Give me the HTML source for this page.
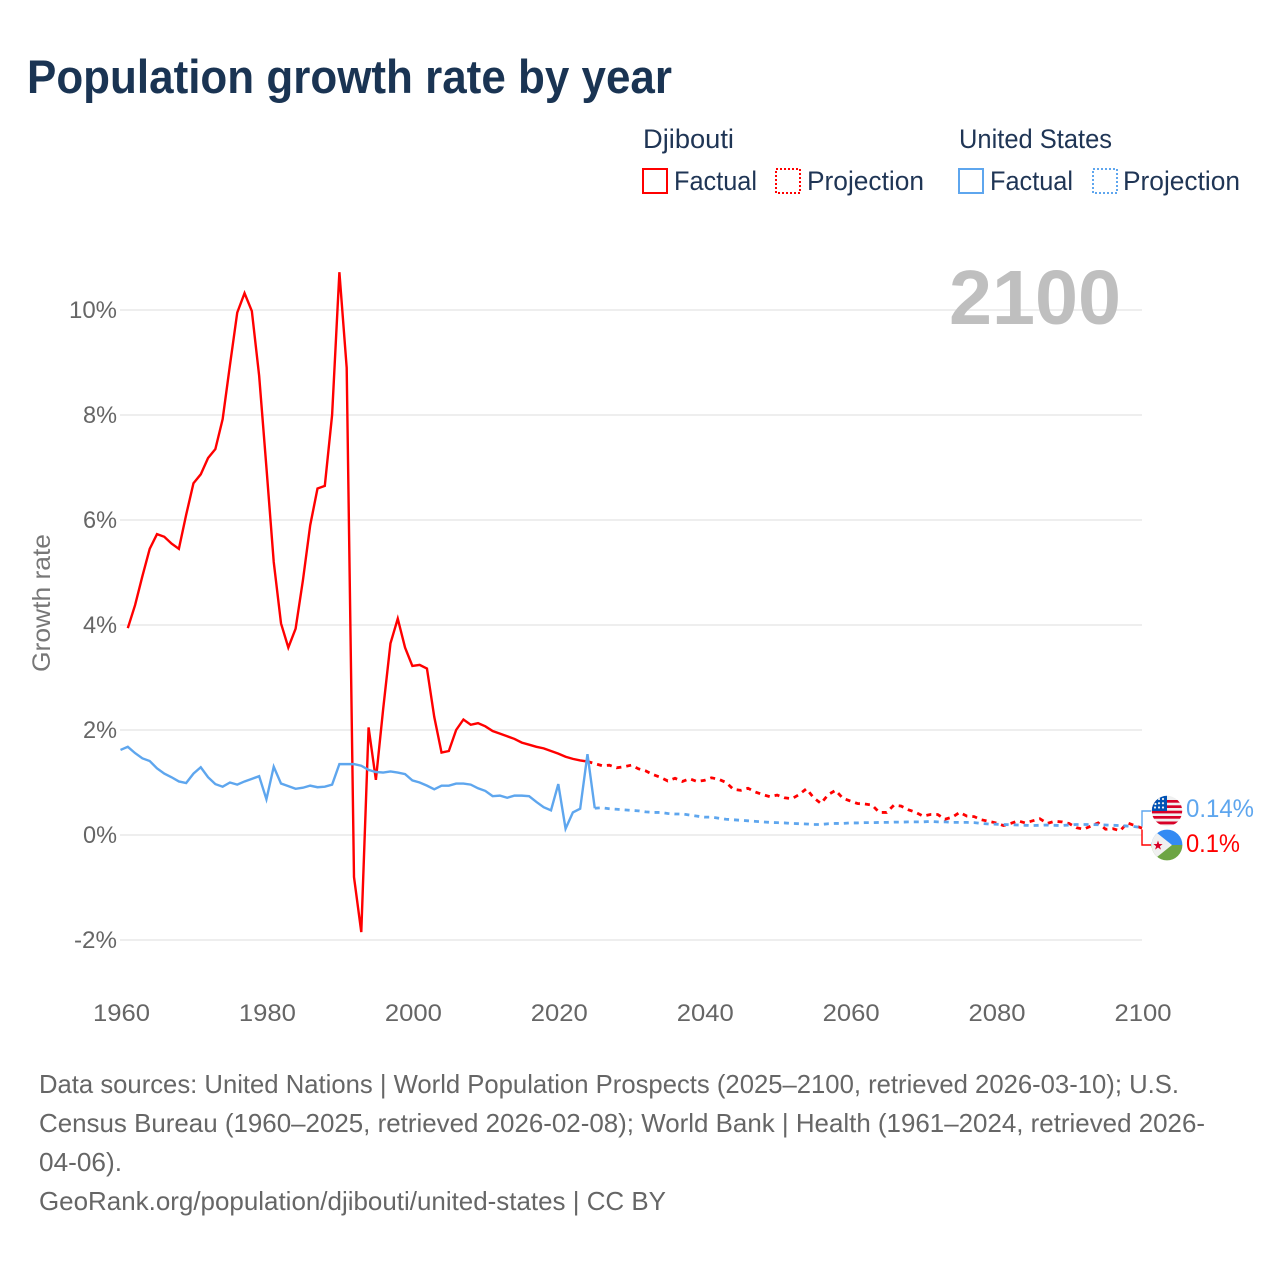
<!DOCTYPE html>
<html lang="en">
<head>
<meta charset="utf-8">
<title>Population growth rate by year</title>
<style>
html,body{margin:0;padding:0;background:#fff;width:1280px;height:1280px;overflow:hidden}
svg{display:block}
text{font-family:"Liberation Sans",sans-serif}
</style>
</head>
<body>
<svg id="chart" xmlns="http://www.w3.org/2000/svg" width="1280" height="1280" viewBox="0 0 1280 1280">
  <defs>
    <clipPath id="clip-us"><circle cx="1167" cy="811" r="15.2"/></clipPath>
    <clipPath id="clip-dj"><circle cx="1167" cy="845" r="15.4"/></clipPath>
  </defs>
  <rect x="0" y="0" width="1280" height="1280" fill="#fff"/>

  <text x="27" y="93" font-size="47" font-weight="700" fill="#1a3453" textLength="645" lengthAdjust="spacingAndGlyphs">Population growth rate by year</text>

  <g font-size="27" fill="#1f3555">
    <text x="643" y="148" textLength="91" lengthAdjust="spacingAndGlyphs">Djibouti</text>
    <rect x="643" y="169" width="24" height="24" fill="none" stroke="#ff0000" stroke-width="2"/>
    <text x="674" y="190" textLength="83" lengthAdjust="spacingAndGlyphs">Factual</text>
    <rect x="776" y="169" width="24" height="24" fill="none" stroke="#ff0000" stroke-width="2" stroke-dasharray="2 2"/>
    <text x="807" y="190" textLength="117" lengthAdjust="spacingAndGlyphs">Projection</text>
    <text x="959" y="148" textLength="153" lengthAdjust="spacingAndGlyphs">United States</text>
    <rect x="959" y="169" width="24" height="24" fill="none" stroke="#5ea6ee" stroke-width="2"/>
    <text x="990" y="190" textLength="83" lengthAdjust="spacingAndGlyphs">Factual</text>
    <rect x="1093" y="169" width="24" height="24" fill="none" stroke="#5ea6ee" stroke-width="2" stroke-dasharray="2 2"/>
    <text x="1123" y="190" textLength="117" lengthAdjust="spacingAndGlyphs">Projection</text>
  </g>

  <g id="grid"></g>
  <g id="y-ticks"></g>
  <g id="x-ticks"></g>

  <text transform="translate(50,603) rotate(-90)" text-anchor="middle" font-size="25" fill="#777" textLength="138" lengthAdjust="spacingAndGlyphs">Growth rate</text>

  <text x="949" y="324" font-size="77" font-weight="700" fill="#bfbfbf" textLength="172" lengthAdjust="spacingAndGlyphs">2100</text>

  <g id="series"></g>

  <path d="M1142 826.5 V811 H1151" fill="none" stroke="#5ea6ee" stroke-width="1.4"/>
  <path d="M1142 829.5 V845 H1151" fill="none" stroke="#ff0000" stroke-width="1.4"/>

  <g clip-path="url(#clip-us)">
    <rect x="1151" y="795" width="32" height="32" fill="#f0f0f0"/>
    <rect x="1151" y="800" width="32" height="2.7" fill="#d80027"/>
    <rect x="1151" y="805.3" width="32" height="2.7" fill="#d80027"/>
    <rect x="1151" y="810.7" width="32" height="2.7" fill="#d80027"/>
    <rect x="1151" y="816" width="32" height="2.7" fill="#d80027"/>
    <rect x="1151" y="821.5" width="32" height="2.9" fill="#d80027"/>
    <rect x="1151" y="795" width="16" height="16" fill="#0052b4"/>
    <g fill="#f0f0f0">
      <circle cx="1163" cy="799" r="1.1"/><circle cx="1159" cy="799" r="1.1"/>
      <circle cx="1163" cy="803.2" r="1.1"/><circle cx="1159" cy="803.2" r="1.1"/><circle cx="1155.5" cy="804" r="1.1"/>
      <circle cx="1163" cy="807.5" r="1.1"/><circle cx="1159" cy="807.5" r="1.1"/><circle cx="1155" cy="807.5" r="1.1"/>
    </g>
  </g>
  <g clip-path="url(#clip-dj)">
    <rect x="1151" y="829" width="33" height="16" fill="#338af3"/>
    <rect x="1151" y="845" width="33" height="16" fill="#6da544"/>
    <path d="M1152 829 L1172 845 L1152 861 Z" fill="#f0f0f0"/>
    <path d="M1158 840.5 L1159.2 844 L1162.6 844 L1159.9 846.2 L1160.9 849.6 L1158 847.5 L1155.1 849.6 L1156.1 846.2 L1153.4 844 L1156.8 844 Z" fill="#d80027"/>
  </g>

  <text x="1186" y="817" font-size="25" fill="#5ea6ee" textLength="68" lengthAdjust="spacingAndGlyphs">0.14%</text>
  <text x="1186" y="852" font-size="25" fill="#ff0000" textLength="54" lengthAdjust="spacingAndGlyphs">0.1%</text>

  <g font-size="26" fill="#666">
    <text x="39" y="1093" textLength="1140" lengthAdjust="spacingAndGlyphs">Data sources: United Nations | World Population Prospects (2025–2100, retrieved 2026-03-10); U.S.</text>
    <text x="39" y="1132" textLength="1166" lengthAdjust="spacingAndGlyphs">Census Bureau (1960–2025, retrieved 2026-02-08); World Bank | Health (1961–2024, retrieved 2026-</text>
    <text x="39" y="1171" textLength="83" lengthAdjust="spacingAndGlyphs">04-06).</text>
    <text x="39" y="1210" textLength="627" lengthAdjust="spacingAndGlyphs">GeoRank.org/population/djibouti/united-states | CC BY</text>
  </g>
</svg>

<script>
var xTickYears = [1960, 1980, 2000, 2020, 2040, 2060, 2080, 2100];
var yTickValues = [-2, 0, 2, 4, 6, 8, 10];
var yTickLabels = ["-2%", "0%", "2%", "4%", "6%", "8%", "10%"];

var djiboutiFactualStart = 1961;
var djiboutiFactual = [3.94,4.38,4.93,5.45,5.73,5.68,5.55,5.45,6.1,6.7,6.87,7.18,7.35,7.92,8.95,9.95,10.32,9.98,8.75,7.0,5.2,4.03,3.57,3.93,4.85,5.9,6.6,6.65,8.0,10.72,8.9,-0.8,-1.85,2.05,1.05,2.4,3.65,4.12,3.57,3.22,3.24,3.17,2.25,1.57,1.6,2.0,2.2,2.1,2.13,2.07,1.98,1.93,1.88,1.83,1.76,1.72,1.68,1.65,1.6,1.55,1.49,1.45,1.42,1.4];

var djiboutiProjectionStart = 2024;
var djiboutiProjection = [1.4,1.36,1.32,1.33,1.28,1.3,1.33,1.26,1.22,1.15,1.1,1.03,1.08,1.02,1.07,1.02,1.04,1.09,1.06,1.0,0.87,0.85,0.89,0.82,0.77,0.73,0.76,0.71,0.69,0.77,0.88,0.71,0.6,0.77,0.85,0.7,0.65,0.6,0.59,0.57,0.43,0.43,0.57,0.55,0.48,0.43,0.36,0.39,0.39,0.3,0.34,0.43,0.36,0.35,0.29,0.26,0.23,0.18,0.22,0.27,0.23,0.27,0.31,0.22,0.26,0.25,0.22,0.14,0.11,0.17,0.23,0.11,0.12,0.08,0.23,0.18,0.13];

var usFactualStart = 1960;
var usFactual = [1.62,1.68,1.56,1.46,1.41,1.27,1.17,1.1,1.02,0.99,1.17,1.29,1.1,0.97,0.92,1.0,0.96,1.02,1.07,1.12,0.68,1.3,0.98,0.93,0.88,0.9,0.94,0.91,0.92,0.96,1.35,1.35,1.35,1.32,1.24,1.2,1.19,1.21,1.19,1.16,1.04,1.0,0.94,0.87,0.94,0.94,0.98,0.98,0.96,0.89,0.84,0.74,0.75,0.71,0.75,0.75,0.74,0.63,0.53,0.47,0.97,0.12,0.43,0.5,1.54,0.51];

var usProjectionStart = 2025;
var usProjection = [0.51,0.52,0.5,0.49,0.48,0.47,0.46,0.44,0.43,0.43,0.41,0.4,0.4,0.38,0.36,0.34,0.34,0.32,0.3,0.29,0.28,0.27,0.26,0.25,0.24,0.235,0.23,0.22,0.215,0.21,0.2,0.2,0.215,0.22,0.22,0.23,0.23,0.235,0.235,0.24,0.24,0.245,0.245,0.25,0.25,0.25,0.26,0.25,0.25,0.24,0.24,0.24,0.235,0.22,0.21,0.205,0.2,0.195,0.19,0.185,0.18,0.185,0.19,0.185,0.18,0.19,0.2,0.2,0.2,0.195,0.19,0.185,0.18,0.17,0.16,0.14];

var NS = "http://www.w3.org/2000/svg";
function xScale(year) { return 120.5 + (year - 1960) * (1142 - 120.5) / 140; }
function yScale(value) { return 835 - value * 52.5; }

function seriesPath(start, values) {
  var d = "";
  for (var i = 0; i < values.length; i++) {
    d += (i === 0 ? "M" : "L") + xScale(start + i).toFixed(2) + " " + yScale(values[i]).toFixed(2);
  }
  return d;
}

var gridGroup = document.getElementById("grid");
var yTickGroup = document.getElementById("y-ticks");
var xTickGroup = document.getElementById("x-ticks");
var seriesGroup = document.getElementById("series");

yTickValues.forEach(function (v, i) {
  var line = document.createElementNS(NS, "line");
  
  
  line.setAttribute("x1", 120);
  line.setAttribute("x2", 1142);
  line.setAttribute("y1", yScale(v));
  line.setAttribute("y2", yScale(v));
  line.setAttribute("stroke", "#e9e9e9");
  line.setAttribute("stroke-width", "1.4");
  gridGroup.appendChild(line);

  var label = document.createElementNS(NS, "text");
  
  
  label.setAttribute("x", 117);
  label.setAttribute("y", yScale(v) + 8);
  label.setAttribute("text-anchor", "end");
  label.setAttribute("font-size", "24");
  label.setAttribute("fill", "#666");
  label.textContent = yTickLabels[i];
  label.setAttribute("textLength", v === 10 ? 48 : (v === -2 ? 43 : 34));
  label.setAttribute("lengthAdjust", "spacingAndGlyphs");
  yTickGroup.appendChild(label);
});

xTickYears.forEach(function (year) {
  var label = document.createElementNS(NS, "text");
  
  
  label.setAttribute("x", xScale(year) + 1);
  label.setAttribute("y", 1021);
  label.setAttribute("text-anchor", "middle");
  label.setAttribute("font-size", "24");
  label.setAttribute("fill", "#666");
  label.setAttribute("textLength", 57);
  label.setAttribute("lengthAdjust", "spacingAndGlyphs");
  label.textContent = String(year);
  xTickGroup.appendChild(label);
});

function addSeries(start, values, color, dashed, name) {
  var path = document.createElementNS(NS, "path");
  
  
  path.setAttribute("d", seriesPath(start, values));
  path.setAttribute("fill", "none");
  path.setAttribute("stroke", color);
  path.setAttribute("stroke-width", dashed ? "2.8" : "2.4");
  path.setAttribute("stroke-linejoin", "miter");
  if (dashed) { path.setAttribute("stroke-dasharray", "5 5"); }
  seriesGroup.appendChild(path);
}

addSeries(djiboutiFactualStart, djiboutiFactual, "#ff0000", false, "djibouti-factual-line");
addSeries(djiboutiProjectionStart, djiboutiProjection, "#ff0000", true, "djibouti-projection-line");
addSeries(usFactualStart, usFactual, "#5ea6ee", false, "us-factual-line");
addSeries(usProjectionStart, usProjection, "#5ea6ee", true, "us-projection-line");
</script>
</body>
</html>
